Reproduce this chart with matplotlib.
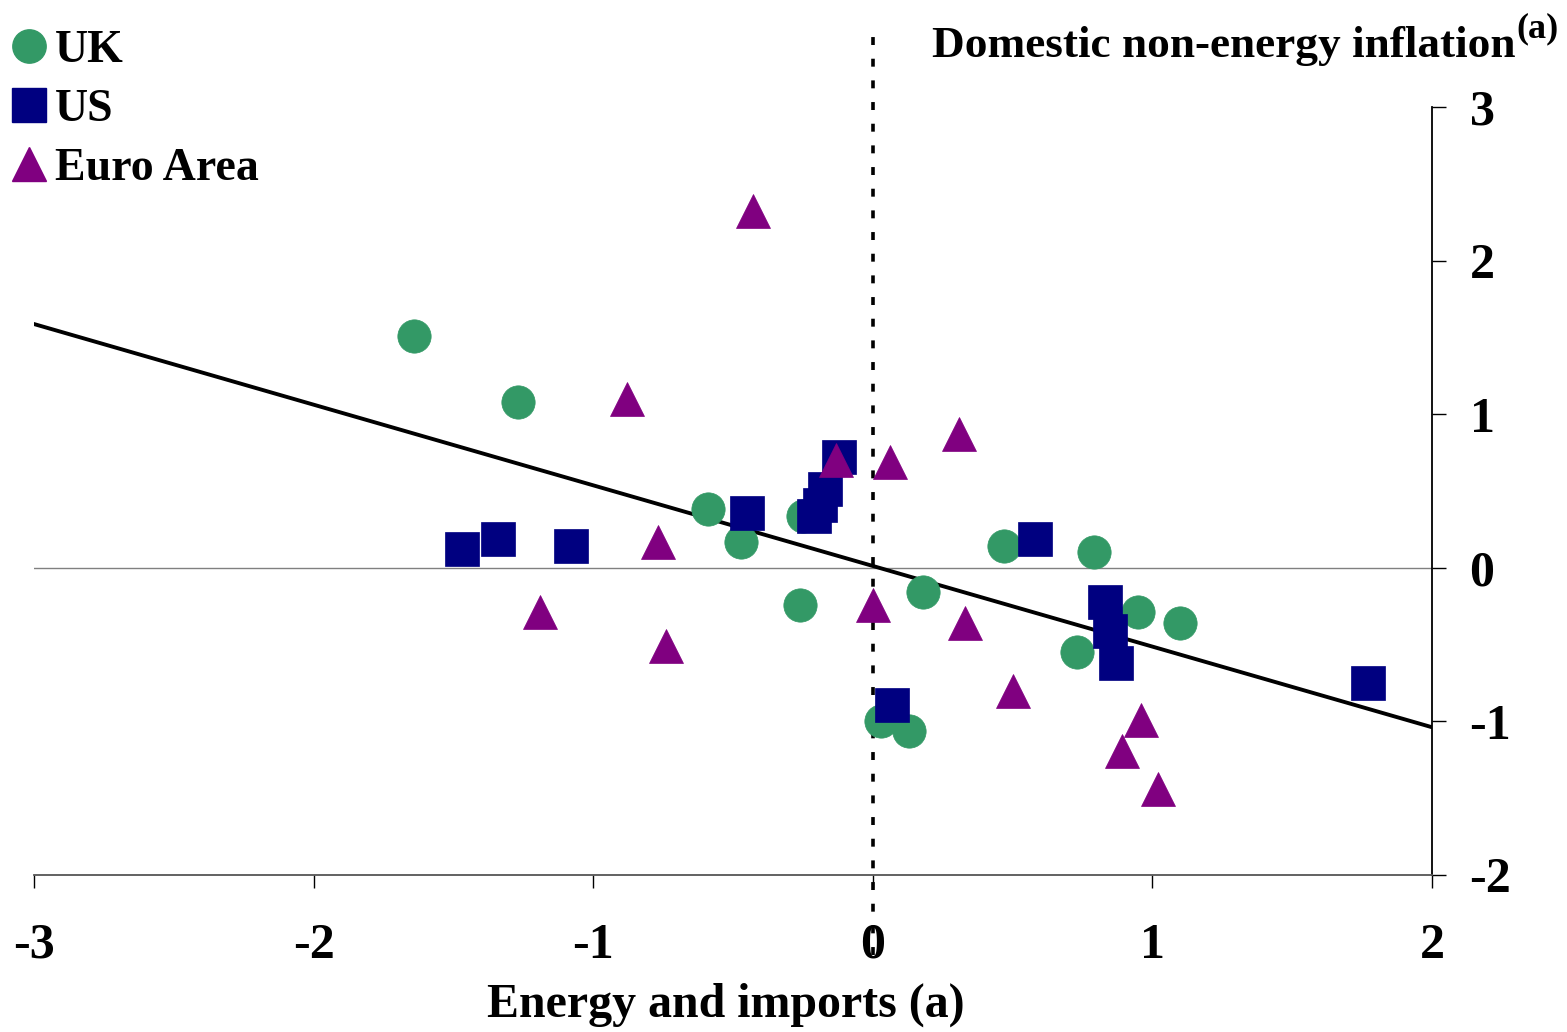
import matplotlib
matplotlib.use("Agg")
import matplotlib.pyplot as plt
from matplotlib.lines import Line2D

plt.rcParams["font.family"] = ["Liberation Serif", "DejaVu Serif"]
plt.rcParams["font.weight"] = "bold"
plt.rcParams["axes.unicode_minus"] = False

# data
uk_x = [-1.64, -1.27, -0.59, -0.47, -0.25, -0.26, 0.18, 0.03, 0.13, 0.47, 0.79, 0.73, 0.95, 1.10]
uk_y = [1.51, 1.08, 0.38, 0.17, 0.34, -0.24, -0.16, -1.00, -1.06, 0.14, 0.10, -0.55, -0.29, -0.36]

us_x = [-1.47, -1.34, -1.08, -0.45, -0.12, -0.17, -0.19, -0.21, 0.07, 0.58, 0.83, 0.85, 0.87, 1.77]
us_y = [0.12, 0.19, 0.14, 0.36, 0.72, 0.51, 0.41, 0.34, -0.89, 0.19, -0.22, -0.41, -0.62, -0.75]

ea_x = [-0.43, -0.88, 0.31, 0.06, -0.13, -0.77, -1.19, -0.74, 0.00, 0.33, 0.50, 0.89, 0.96, 1.02]
ea_y = [2.32, 1.10, 0.87, 0.69, 0.70, 0.17, -0.29, -0.51, -0.24, -0.36, -0.80, -1.19, -0.99, -1.44]

fit_slope = -0.525
fit_intercept = 0.012

x_ticks = [-3, -2, -1, 0, 1, 2]
y_ticks = [-2, -1, 0, 1, 2, 3]

series = [
    ("UK", uk_x, uk_y, "o", "#339966"),
    ("US", us_x, us_y, "s", "#000080"),
    ("Euro Area", ea_x, ea_y, "^", "#800080"),
]

W, H = 1567, 1032
fig = plt.figure(figsize=(W / 100, H / 100), dpi=100)
ax = fig.add_axes([34 / W, 157 / H, 1398 / W, 768 / H])
ax.set_xlim(x_ticks[0], x_ticks[-1])
ax.set_ylim(y_ticks[0], y_ticks[-1])

# reference lines
ax.axhline(0, color="#808080", lw=1.0, zorder=1)
vline = ax.axvline(0, ymin=-0.104, ymax=1.092, color="black", lw=2.6,
                   clip_on=False, zorder=1)
vline.set_dashes((2.2, 3.8))

fit_x = [x_ticks[0], x_ticks[-1]]
ax.plot(fit_x, [fit_intercept + fit_slope * v for v in fit_x],
        color="black", lw=2.8, zorder=2)

for label, xs, ys, marker, color in series:
    ax.plot(xs, ys, linestyle="none", marker=marker, markersize=24,
            color=color, markeredgecolor=color, markeredgewidth=0.5,
            label=label, zorder=3, clip_on=False)

# axes styling
for side in ("top", "left"):
    ax.spines[side].set_visible(False)
ax.spines["bottom"].set_color("#555555")
ax.spines["bottom"].set_linewidth(1.3)
ax.spines["right"].set_linewidth(1.3)
ax.yaxis.tick_right()
ax.set_xticks(x_ticks)
ax.set_yticks(y_ticks)
ax.tick_params(axis="x", direction="out", length=9.5, width=1.0, pad=25,
               labelsize=36)
ax.tick_params(axis="y", direction="out", length=10, width=1.0, pad=17,
               labelsize=36)

ax.set_xlabel("Energy and imports (a)", fontsize=34.5, fontweight="bold")
ax.xaxis.set_label_coords(0.495, -0.14)

fig.text(1515 / W, 1 - 57 / H, "Domestic non-energy inflation",
         ha="right", va="baseline", fontsize=32.6, fontweight="bold")
fig.text(1516 / W, 1 - 37 / H, "(a)", ha="left", va="baseline",
         fontsize=26, fontweight="bold")

handles = [Line2D([], [], linestyle="none", marker=m, markersize=24,
                  color=c, markeredgecolor=c) for _, _, _, m, c in series]
ax.legend(handles, [s[0] for s in series], loc="upper left",
          bbox_to_anchor=(11 / W, 1 - 30 / H), bbox_transform=fig.transFigure,
          frameon=False, borderpad=0, borderaxespad=0, handlelength=0.78,
          handletextpad=0.18, labelspacing=0.365,
          prop={"size": 33, "weight": "bold"})

fig.savefig("out.png", dpi=100)
